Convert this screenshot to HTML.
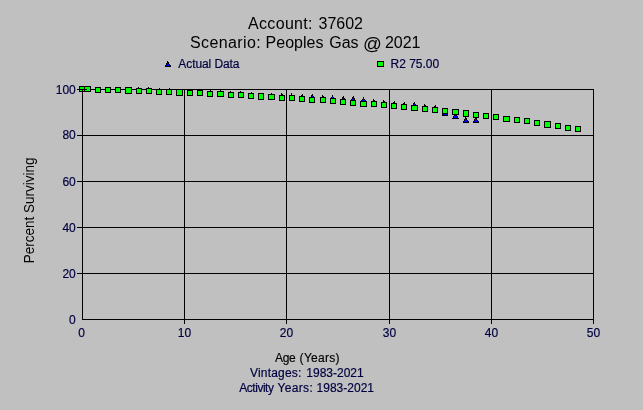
<!DOCTYPE html>
<html lang="en">
<head>
<meta charset="utf-8">
<title>Account: 37602 - Scenario: Peoples Gas @ 2021</title>
<style>
html,body{margin:0;padding:0;background:#C0C0C0;}
body{width:643px;height:410px;overflow:hidden;}
svg{display:block;}
svg text{font-family:"Liberation Sans",Arial,sans-serif;}
svg text.s{stroke:#000040;stroke-width:0.18px;}
svg text.b{stroke:#000;stroke-width:0.15px;}
</style>
</head>
<body>
<svg width="643" height="410" viewBox="0 0 643 410">
<rect x="0" y="0" width="643" height="410" fill="#C0C0C0"/>
<g shape-rendering="crispEdges">
<rect x="82" y="89" width="1" height="231" fill="#000"/>
<rect x="184" y="89" width="1" height="231" fill="#000"/>
<rect x="286" y="89" width="1" height="231" fill="#000"/>
<rect x="389" y="89" width="1" height="231" fill="#000"/>
<rect x="491" y="89" width="1" height="231" fill="#000"/>
<rect x="593" y="89" width="1" height="231" fill="#000"/>
<rect x="82" y="89" width="512" height="1" fill="#000"/>
<rect x="82" y="135" width="512" height="1" fill="#000"/>
<rect x="82" y="181" width="512" height="1" fill="#000"/>
<rect x="82" y="227" width="512" height="1" fill="#000"/>
<rect x="82" y="273" width="512" height="1" fill="#000"/>
<rect x="82" y="319" width="512" height="1" fill="#000"/>
<rect x="77" y="89" width="5" height="1" fill="#000"/>
<rect x="77" y="135" width="5" height="1" fill="#000"/>
<rect x="77" y="181" width="5" height="1" fill="#000"/>
<rect x="77" y="227" width="5" height="1" fill="#000"/>
<rect x="77" y="273" width="5" height="1" fill="#000"/>
<rect x="184" y="320" width="1" height="4" fill="#000"/>
<rect x="286" y="320" width="1" height="4" fill="#000"/>
<rect x="389" y="320" width="1" height="4" fill="#000"/>
<rect x="491" y="320" width="1" height="4" fill="#000"/>
<rect x="593" y="320" width="1" height="4" fill="#000"/>
<rect x="138" y="87" width="1" height="1" fill="#000"/><rect x="138" y="88" width="2" height="1" fill="#000"/><rect x="137" y="89" width="3" height="1" fill="#000"/><rect x="138" y="89" width="1" height="1" fill="#00f"/><rect x="137" y="90" width="4" height="1" fill="#000"/><rect x="138" y="90" width="2" height="1" fill="#00f"/><rect x="136" y="91" width="6" height="1" fill="#000"/><rect x="137" y="91" width="4" height="1" fill="#00f"/><rect x="136" y="92" width="6" height="1" fill="#000"/>
<rect x="148" y="87" width="1" height="1" fill="#000"/><rect x="148" y="88" width="2" height="1" fill="#000"/><rect x="147" y="89" width="3" height="1" fill="#000"/><rect x="148" y="89" width="1" height="1" fill="#00f"/><rect x="147" y="90" width="4" height="1" fill="#000"/><rect x="148" y="90" width="2" height="1" fill="#00f"/><rect x="146" y="91" width="6" height="1" fill="#000"/><rect x="147" y="91" width="4" height="1" fill="#00f"/><rect x="146" y="92" width="6" height="1" fill="#000"/>
<rect x="159" y="88" width="1" height="1" fill="#000"/><rect x="158" y="89" width="2" height="1" fill="#000"/><rect x="158" y="90" width="3" height="1" fill="#000"/><rect x="159" y="90" width="1" height="1" fill="#00f"/><rect x="157" y="91" width="4" height="1" fill="#000"/><rect x="158" y="91" width="2" height="1" fill="#00f"/><rect x="156" y="92" width="6" height="1" fill="#000"/><rect x="157" y="92" width="4" height="1" fill="#00f"/><rect x="156" y="93" width="6" height="1" fill="#000"/>
<rect x="169" y="88" width="1" height="1" fill="#000"/><rect x="168" y="89" width="2" height="1" fill="#000"/><rect x="168" y="90" width="3" height="1" fill="#000"/><rect x="169" y="90" width="1" height="1" fill="#00f"/><rect x="167" y="91" width="4" height="1" fill="#000"/><rect x="168" y="91" width="2" height="1" fill="#00f"/><rect x="166" y="92" width="6" height="1" fill="#000"/><rect x="167" y="92" width="4" height="1" fill="#00f"/><rect x="166" y="93" width="6" height="1" fill="#000"/>
<rect x="210" y="90" width="1" height="1" fill="#000"/><rect x="209" y="91" width="2" height="1" fill="#000"/><rect x="209" y="92" width="3" height="1" fill="#000"/><rect x="210" y="92" width="1" height="1" fill="#00f"/><rect x="208" y="93" width="4" height="1" fill="#000"/><rect x="209" y="93" width="2" height="1" fill="#00f"/><rect x="207" y="94" width="6" height="1" fill="#000"/><rect x="208" y="94" width="4" height="1" fill="#00f"/><rect x="207" y="95" width="6" height="1" fill="#000"/>
<rect x="220" y="90" width="1" height="1" fill="#000"/><rect x="220" y="91" width="1" height="1" fill="#000"/><rect x="219" y="92" width="3" height="1" fill="#000"/><rect x="220" y="92" width="1" height="1" fill="#00f"/><rect x="218" y="93" width="5" height="1" fill="#000"/><rect x="219" y="93" width="3" height="1" fill="#00f"/><rect x="218" y="94" width="5" height="1" fill="#000"/><rect x="219" y="94" width="3" height="1" fill="#00f"/><rect x="217" y="95" width="7" height="1" fill="#000"/>
<rect x="230" y="91" width="1" height="1" fill="#000"/><rect x="230" y="92" width="2" height="1" fill="#000"/><rect x="229" y="93" width="3" height="1" fill="#000"/><rect x="230" y="93" width="1" height="1" fill="#00f"/><rect x="229" y="94" width="4" height="1" fill="#000"/><rect x="230" y="94" width="2" height="1" fill="#00f"/><rect x="228" y="95" width="6" height="1" fill="#000"/><rect x="229" y="95" width="4" height="1" fill="#00f"/><rect x="228" y="96" width="6" height="1" fill="#000"/>
<rect x="240" y="91" width="1" height="1" fill="#000"/><rect x="240" y="92" width="2" height="1" fill="#000"/><rect x="239" y="93" width="3" height="1" fill="#000"/><rect x="240" y="93" width="1" height="1" fill="#00f"/><rect x="239" y="94" width="4" height="1" fill="#000"/><rect x="240" y="94" width="2" height="1" fill="#00f"/><rect x="238" y="95" width="6" height="1" fill="#000"/><rect x="239" y="95" width="4" height="1" fill="#00f"/><rect x="238" y="96" width="6" height="1" fill="#000"/>
<rect x="251" y="92" width="1" height="1" fill="#000"/><rect x="250" y="93" width="2" height="1" fill="#000"/><rect x="250" y="94" width="3" height="1" fill="#000"/><rect x="251" y="94" width="1" height="1" fill="#00f"/><rect x="249" y="95" width="4" height="1" fill="#000"/><rect x="250" y="95" width="2" height="1" fill="#00f"/><rect x="248" y="96" width="6" height="1" fill="#000"/><rect x="249" y="96" width="4" height="1" fill="#00f"/><rect x="248" y="97" width="6" height="1" fill="#000"/>
<rect x="271" y="93" width="1" height="1" fill="#000"/><rect x="271" y="94" width="1" height="1" fill="#000"/><rect x="270" y="95" width="3" height="1" fill="#000"/><rect x="271" y="95" width="1" height="1" fill="#00f"/><rect x="269" y="96" width="5" height="1" fill="#000"/><rect x="270" y="96" width="3" height="1" fill="#00f"/><rect x="269" y="97" width="5" height="1" fill="#000"/><rect x="270" y="97" width="3" height="1" fill="#00f"/><rect x="268" y="98" width="7" height="1" fill="#000"/>
<rect x="281" y="93" width="1" height="1" fill="#000"/><rect x="281" y="94" width="2" height="1" fill="#000"/><rect x="280" y="95" width="3" height="1" fill="#000"/><rect x="281" y="95" width="1" height="1" fill="#00f"/><rect x="280" y="96" width="4" height="1" fill="#000"/><rect x="281" y="96" width="2" height="1" fill="#00f"/><rect x="279" y="97" width="6" height="1" fill="#000"/><rect x="280" y="97" width="4" height="1" fill="#00f"/><rect x="279" y="98" width="6" height="1" fill="#000"/>
<rect x="291" y="93" width="1" height="1" fill="#000"/><rect x="291" y="94" width="1" height="1" fill="#000"/><rect x="290" y="95" width="3" height="1" fill="#000"/><rect x="291" y="95" width="1" height="1" fill="#00f"/><rect x="290" y="96" width="4" height="1" fill="#000"/><rect x="291" y="96" width="2" height="1" fill="#00f"/><rect x="289" y="97" width="6" height="1" fill="#000"/><rect x="290" y="97" width="4" height="1" fill="#00f"/><rect x="289" y="98" width="6" height="1" fill="#000"/>
<rect x="302" y="94" width="1" height="1" fill="#000"/><rect x="301" y="95" width="2" height="1" fill="#000"/><rect x="301" y="96" width="3" height="1" fill="#000"/><rect x="302" y="96" width="1" height="1" fill="#00f"/><rect x="300" y="97" width="4" height="1" fill="#000"/><rect x="301" y="97" width="2" height="1" fill="#00f"/><rect x="299" y="98" width="6" height="1" fill="#000"/><rect x="300" y="98" width="4" height="1" fill="#00f"/><rect x="299" y="99" width="6" height="1" fill="#000"/>
<rect x="312" y="94" width="1" height="1" fill="#000"/><rect x="311" y="95" width="2" height="1" fill="#000"/><rect x="311" y="96" width="3" height="1" fill="#000"/><rect x="312" y="96" width="1" height="1" fill="#00f"/><rect x="310" y="97" width="4" height="1" fill="#000"/><rect x="311" y="97" width="2" height="1" fill="#00f"/><rect x="309" y="98" width="6" height="1" fill="#000"/><rect x="310" y="98" width="4" height="1" fill="#00f"/><rect x="309" y="99" width="6" height="1" fill="#000"/>
<rect x="322" y="95" width="1" height="1" fill="#000"/><rect x="322" y="96" width="2" height="1" fill="#000"/><rect x="321" y="97" width="3" height="1" fill="#000"/><rect x="322" y="97" width="1" height="1" fill="#00f"/><rect x="321" y="98" width="4" height="1" fill="#000"/><rect x="322" y="98" width="2" height="1" fill="#00f"/><rect x="320" y="99" width="6" height="1" fill="#000"/><rect x="321" y="99" width="4" height="1" fill="#00f"/><rect x="320" y="100" width="6" height="1" fill="#000"/>
<rect x="332" y="95" width="1" height="1" fill="#000"/><rect x="332" y="96" width="1" height="1" fill="#000"/><rect x="331" y="97" width="3" height="1" fill="#000"/><rect x="332" y="97" width="1" height="1" fill="#00f"/><rect x="331" y="98" width="4" height="1" fill="#000"/><rect x="332" y="98" width="2" height="1" fill="#00f"/><rect x="330" y="99" width="6" height="1" fill="#000"/><rect x="331" y="99" width="4" height="1" fill="#00f"/><rect x="330" y="100" width="6" height="1" fill="#000"/>
<rect x="343" y="96" width="1" height="1" fill="#000"/><rect x="342" y="97" width="2" height="1" fill="#000"/><rect x="342" y="98" width="3" height="1" fill="#000"/><rect x="343" y="98" width="1" height="1" fill="#00f"/><rect x="341" y="99" width="4" height="1" fill="#000"/><rect x="342" y="99" width="2" height="1" fill="#00f"/><rect x="340" y="100" width="6" height="1" fill="#000"/><rect x="341" y="100" width="4" height="1" fill="#00f"/><rect x="340" y="101" width="6" height="1" fill="#000"/>
<rect x="353" y="96" width="1" height="1" fill="#000"/><rect x="352" y="97" width="2" height="1" fill="#000"/><rect x="352" y="98" width="3" height="1" fill="#000"/><rect x="353" y="98" width="1" height="1" fill="#00f"/><rect x="351" y="99" width="4" height="1" fill="#000"/><rect x="352" y="99" width="2" height="1" fill="#00f"/><rect x="350" y="100" width="6" height="1" fill="#000"/><rect x="351" y="100" width="4" height="1" fill="#00f"/><rect x="350" y="101" width="6" height="1" fill="#000"/>
<rect x="363" y="97" width="1" height="1" fill="#000"/><rect x="363" y="98" width="1" height="1" fill="#00f"/><rect x="362" y="99" width="3" height="1" fill="#000"/><rect x="363" y="99" width="1" height="1" fill="#00f"/><rect x="361" y="100" width="5" height="1" fill="#000"/><rect x="362" y="100" width="3" height="1" fill="#00f"/><rect x="361" y="101" width="5" height="1" fill="#000"/><rect x="362" y="101" width="3" height="1" fill="#00f"/><rect x="360" y="102" width="7" height="1" fill="#000"/>
<rect x="373" y="99" width="1" height="1" fill="#000"/><rect x="373" y="100" width="2" height="1" fill="#000"/><rect x="372" y="101" width="3" height="1" fill="#000"/><rect x="373" y="101" width="1" height="1" fill="#00f"/><rect x="372" y="102" width="4" height="1" fill="#000"/><rect x="373" y="102" width="2" height="1" fill="#00f"/><rect x="371" y="103" width="6" height="1" fill="#000"/><rect x="372" y="103" width="4" height="1" fill="#00f"/><rect x="371" y="104" width="6" height="1" fill="#000"/>
<rect x="383" y="100" width="1" height="1" fill="#000"/><rect x="383" y="101" width="2" height="1" fill="#000"/><rect x="382" y="102" width="3" height="1" fill="#000"/><rect x="383" y="102" width="1" height="1" fill="#00f"/><rect x="382" y="103" width="4" height="1" fill="#000"/><rect x="383" y="103" width="2" height="1" fill="#00f"/><rect x="381" y="104" width="6" height="1" fill="#000"/><rect x="382" y="104" width="4" height="1" fill="#00f"/><rect x="381" y="105" width="6" height="1" fill="#000"/>
<rect x="394" y="101" width="1" height="1" fill="#000"/><rect x="393" y="102" width="2" height="1" fill="#000"/><rect x="393" y="103" width="3" height="1" fill="#000"/><rect x="394" y="103" width="1" height="1" fill="#00f"/><rect x="392" y="104" width="4" height="1" fill="#000"/><rect x="393" y="104" width="2" height="1" fill="#00f"/><rect x="391" y="105" width="6" height="1" fill="#000"/><rect x="392" y="105" width="4" height="1" fill="#00f"/><rect x="391" y="106" width="6" height="1" fill="#000"/>
<rect x="404" y="102" width="1" height="1" fill="#000"/><rect x="403" y="103" width="2" height="1" fill="#000"/><rect x="403" y="104" width="3" height="1" fill="#000"/><rect x="404" y="104" width="1" height="1" fill="#00f"/><rect x="402" y="105" width="4" height="1" fill="#000"/><rect x="403" y="105" width="2" height="1" fill="#00f"/><rect x="401" y="106" width="6" height="1" fill="#000"/><rect x="402" y="106" width="4" height="1" fill="#00f"/><rect x="401" y="107" width="6" height="1" fill="#000"/>
<rect x="414" y="102" width="1" height="1" fill="#000"/><rect x="413" y="103" width="2" height="1" fill="#000"/><rect x="413" y="104" width="3" height="1" fill="#000"/><rect x="414" y="104" width="1" height="1" fill="#00f"/><rect x="412" y="105" width="5" height="1" fill="#000"/><rect x="413" y="105" width="3" height="1" fill="#00f"/><rect x="412" y="106" width="5" height="1" fill="#000"/><rect x="413" y="106" width="3" height="1" fill="#00f"/><rect x="411" y="107" width="7" height="1" fill="#000"/>
<rect x="424" y="104" width="1" height="1" fill="#000"/><rect x="424" y="105" width="2" height="1" fill="#000"/><rect x="423" y="106" width="3" height="1" fill="#000"/><rect x="424" y="106" width="1" height="1" fill="#00f"/><rect x="423" y="107" width="4" height="1" fill="#000"/><rect x="424" y="107" width="2" height="1" fill="#00f"/><rect x="422" y="108" width="6" height="1" fill="#000"/><rect x="423" y="108" width="4" height="1" fill="#00f"/><rect x="422" y="109" width="6" height="1" fill="#000"/>
<rect x="435" y="105" width="1" height="1" fill="#000"/><rect x="434" y="106" width="2" height="1" fill="#000"/><rect x="434" y="107" width="3" height="1" fill="#000"/><rect x="435" y="107" width="1" height="1" fill="#00f"/><rect x="433" y="108" width="4" height="1" fill="#000"/><rect x="434" y="108" width="2" height="1" fill="#00f"/><rect x="432" y="109" width="6" height="1" fill="#000"/><rect x="433" y="109" width="4" height="1" fill="#00f"/><rect x="432" y="110" width="6" height="1" fill="#000"/>
<rect x="445" y="110" width="1" height="1" fill="#000"/><rect x="444" y="111" width="2" height="1" fill="#000"/><rect x="444" y="112" width="3" height="1" fill="#000"/><rect x="445" y="112" width="1" height="1" fill="#00f"/><rect x="443" y="113" width="4" height="1" fill="#000"/><rect x="444" y="113" width="2" height="1" fill="#00f"/><rect x="442" y="114" width="6" height="1" fill="#000"/><rect x="444" y="114" width="3" height="1" fill="#00f"/><rect x="442" y="115" width="6" height="1" fill="#000"/>
<rect x="455" y="113" width="1" height="1" fill="#000"/><rect x="455" y="114" width="1" height="1" fill="#000"/><rect x="454" y="115" width="3" height="1" fill="#000"/><rect x="455" y="115" width="1" height="1" fill="#00f"/><rect x="453" y="116" width="5" height="1" fill="#000"/><rect x="454" y="116" width="3" height="1" fill="#00f"/><rect x="453" y="117" width="5" height="1" fill="#000"/><rect x="454" y="117" width="3" height="1" fill="#00f"/><rect x="452" y="118" width="7" height="1" fill="#000"/>
<rect x="465" y="117" width="1" height="1" fill="#000"/><rect x="465" y="118" width="2" height="1" fill="#000"/><rect x="464" y="119" width="3" height="1" fill="#000"/><rect x="465" y="119" width="1" height="1" fill="#00f"/><rect x="464" y="120" width="4" height="1" fill="#000"/><rect x="465" y="120" width="2" height="1" fill="#00f"/><rect x="463" y="121" width="6" height="1" fill="#000"/><rect x="464" y="121" width="4" height="1" fill="#00f"/><rect x="463" y="122" width="6" height="1" fill="#000"/>
<rect x="475" y="117" width="1" height="1" fill="#000"/><rect x="475" y="118" width="2" height="1" fill="#000"/><rect x="474" y="119" width="3" height="1" fill="#000"/><rect x="475" y="119" width="1" height="1" fill="#00f"/><rect x="474" y="120" width="4" height="1" fill="#000"/><rect x="475" y="120" width="2" height="1" fill="#00f"/><rect x="473" y="121" width="6" height="1" fill="#000"/><rect x="474" y="121" width="4" height="1" fill="#00f"/><rect x="473" y="122" width="6" height="1" fill="#000"/>
<rect x="79" y="86" width="6" height="6" fill="#000"/><rect x="80" y="87" width="4" height="4" fill="#0f0"/>
<rect x="84" y="86" width="7" height="6" fill="#000"/><rect x="85" y="87" width="5" height="4" fill="#0f0"/>
<rect x="95" y="87" width="6" height="6" fill="#000"/><rect x="96" y="88" width="4" height="4" fill="#0f0"/>
<rect x="105" y="87" width="6" height="6" fill="#000"/><rect x="106" y="88" width="4" height="4" fill="#0f0"/>
<rect x="115" y="87" width="6" height="6" fill="#000"/><rect x="116" y="88" width="4" height="4" fill="#0f0"/>
<rect x="125" y="87" width="7" height="7" fill="#000"/><rect x="126" y="88" width="5" height="5" fill="#0f0"/>
<rect x="136" y="88" width="6" height="6" fill="#000"/><rect x="137" y="89" width="4" height="4" fill="#0f0"/>
<rect x="146" y="88" width="6" height="6" fill="#000"/><rect x="147" y="89" width="4" height="4" fill="#0f0"/>
<rect x="156" y="89" width="6" height="6" fill="#000"/><rect x="157" y="90" width="4" height="4" fill="#0f0"/>
<rect x="166" y="89" width="6" height="6" fill="#000"/><rect x="167" y="90" width="4" height="4" fill="#0f0"/>
<rect x="176" y="89" width="7" height="7" fill="#000"/><rect x="177" y="90" width="5" height="5" fill="#0f0"/>
<rect x="187" y="90" width="6" height="6" fill="#000"/><rect x="188" y="91" width="4" height="4" fill="#0f0"/>
<rect x="197" y="90" width="6" height="6" fill="#000"/><rect x="198" y="91" width="4" height="4" fill="#0f0"/>
<rect x="207" y="91" width="6" height="6" fill="#000"/><rect x="208" y="92" width="4" height="4" fill="#0f0"/>
<rect x="217" y="91" width="7" height="6" fill="#000"/><rect x="218" y="92" width="5" height="4" fill="#0f0"/>
<rect x="228" y="92" width="6" height="6" fill="#000"/><rect x="229" y="93" width="4" height="4" fill="#0f0"/>
<rect x="238" y="92" width="6" height="6" fill="#000"/><rect x="239" y="93" width="4" height="4" fill="#0f0"/>
<rect x="248" y="93" width="6" height="6" fill="#000"/><rect x="249" y="94" width="4" height="4" fill="#0f0"/>
<rect x="258" y="93" width="6" height="7" fill="#000"/><rect x="259" y="94" width="4" height="5" fill="#0f0"/>
<rect x="268" y="94" width="7" height="6" fill="#000"/><rect x="269" y="95" width="5" height="4" fill="#0f0"/>
<rect x="279" y="95" width="6" height="6" fill="#000"/><rect x="280" y="96" width="4" height="4" fill="#0f0"/>
<rect x="289" y="95" width="6" height="6" fill="#000"/><rect x="290" y="96" width="4" height="4" fill="#0f0"/>
<rect x="299" y="96" width="6" height="6" fill="#000"/><rect x="300" y="97" width="4" height="4" fill="#0f0"/>
<rect x="309" y="97" width="6" height="6" fill="#000"/><rect x="310" y="98" width="4" height="4" fill="#0f0"/>
<rect x="320" y="97" width="6" height="6" fill="#000"/><rect x="321" y="98" width="4" height="4" fill="#0f0"/>
<rect x="330" y="98" width="6" height="6" fill="#000"/><rect x="331" y="99" width="4" height="4" fill="#0f0"/>
<rect x="340" y="99" width="6" height="6" fill="#000"/><rect x="341" y="100" width="4" height="4" fill="#0f0"/>
<rect x="350" y="100" width="6" height="6" fill="#000"/><rect x="351" y="101" width="4" height="4" fill="#0f0"/>
<rect x="360" y="101" width="7" height="6" fill="#000"/><rect x="361" y="102" width="5" height="4" fill="#0f0"/>
<rect x="371" y="101" width="6" height="6" fill="#000"/><rect x="372" y="102" width="4" height="4" fill="#0f0"/>
<rect x="381" y="102" width="6" height="6" fill="#000"/><rect x="382" y="103" width="4" height="4" fill="#0f0"/>
<rect x="391" y="103" width="6" height="6" fill="#000"/><rect x="392" y="104" width="4" height="4" fill="#0f0"/>
<rect x="401" y="104" width="6" height="6" fill="#000"/><rect x="402" y="105" width="4" height="4" fill="#0f0"/>
<rect x="411" y="105" width="7" height="6" fill="#000"/><rect x="412" y="106" width="5" height="4" fill="#0f0"/>
<rect x="422" y="106" width="6" height="6" fill="#000"/><rect x="423" y="107" width="4" height="4" fill="#0f0"/>
<rect x="432" y="107" width="6" height="6" fill="#000"/><rect x="433" y="108" width="4" height="4" fill="#0f0"/>
<rect x="442" y="108" width="6" height="6" fill="#000"/><rect x="443" y="109" width="4" height="4" fill="#0f0"/>
<rect x="452" y="109" width="7" height="6" fill="#000"/><rect x="453" y="110" width="5" height="4" fill="#0f0"/>
<rect x="463" y="110" width="6" height="7" fill="#000"/><rect x="464" y="111" width="4" height="5" fill="#0f0"/>
<rect x="473" y="112" width="6" height="6" fill="#000"/><rect x="474" y="113" width="4" height="4" fill="#0f0"/>
<rect x="483" y="113" width="6" height="6" fill="#000"/><rect x="484" y="114" width="4" height="4" fill="#0f0"/>
<rect x="493" y="114" width="6" height="6" fill="#000"/><rect x="494" y="115" width="4" height="4" fill="#0f0"/>
<rect x="503" y="116" width="7" height="6" fill="#000"/><rect x="504" y="117" width="5" height="4" fill="#0f0"/>
<rect x="514" y="117" width="6" height="6" fill="#000"/><rect x="515" y="118" width="4" height="4" fill="#0f0"/>
<rect x="524" y="118" width="6" height="6" fill="#000"/><rect x="525" y="119" width="4" height="4" fill="#0f0"/>
<rect x="534" y="120" width="6" height="6" fill="#000"/><rect x="535" y="121" width="4" height="4" fill="#0f0"/>
<rect x="544" y="121" width="7" height="7" fill="#000"/><rect x="545" y="122" width="5" height="5" fill="#0f0"/>
<rect x="555" y="123" width="6" height="6" fill="#000"/><rect x="556" y="124" width="4" height="4" fill="#0f0"/>
<rect x="565" y="125" width="6" height="6" fill="#000"/><rect x="566" y="126" width="4" height="4" fill="#0f0"/>
<rect x="575" y="126" width="6" height="6" fill="#000"/><rect x="576" y="127" width="4" height="4" fill="#0f0"/>
<rect x="77" y="89" width="10" height="1" fill="#000"/><rect x="82" y="89" width="1" height="3" fill="#000"/>
<rect x="167" y="61" width="1" height="1" fill="#000"/><rect x="167" y="62" width="2" height="1" fill="#000"/><rect x="166" y="63" width="3" height="1" fill="#000"/><rect x="167" y="63" width="1" height="1" fill="#00f"/><rect x="166" y="64" width="4" height="1" fill="#000"/><rect x="167" y="64" width="2" height="1" fill="#00f"/><rect x="165" y="65" width="6" height="1" fill="#000"/><rect x="166" y="65" width="3" height="1" fill="#00f"/><rect x="165" y="66" width="6" height="1" fill="#000"/>
<rect x="377" y="61" width="7" height="6" fill="#000"/><rect x="378" y="62" width="5" height="4" fill="#0f0"/>
</g>
<g>
<text class="t" y="29" font-size="16" fill="#000"><tspan x="248.1" textLength="64.4" lengthAdjust="spacing">Account:</tspan> <tspan x="318.5">37602</tspan></text>
<text class="t" y="48" font-size="16" fill="#000"><tspan x="190.0" textLength="70.8" lengthAdjust="spacing">Scenario:</tspan> <tspan x="265.6">Peoples</tspan> <tspan x="329.2">Gas</tspan> <tspan x="362.9" font-size="18.5" dy="1.9">@</tspan> <tspan x="384.9" dy="-1.9">2021</tspan></text>
<text class="s" x="178.3" y="67.5" font-size="12" text-anchor="start" fill="#000040" textLength="61.2" lengthAdjust="spacing">Actual Data</text>
<text class="s" x="390.5" y="67.5" font-size="12" text-anchor="start" fill="#000040">R2 75.00</text>
<text class="s" x="75.8" y="94.3" font-size="12" text-anchor="end" fill="#000040">100</text>
<text class="s" x="75.8" y="139.3" font-size="12" text-anchor="end" fill="#000040">80</text>
<text class="s" x="75.8" y="186.3" font-size="12" text-anchor="end" fill="#000040">60</text>
<text class="s" x="75.8" y="232.3" font-size="12" text-anchor="end" fill="#000040">40</text>
<text class="s" x="75.8" y="278.3" font-size="12" text-anchor="end" fill="#000040">20</text>
<text class="s" x="75.8" y="324.3" font-size="12" text-anchor="end" fill="#000040">0</text>
<text class="s" x="81.5" y="336.5" font-size="12" text-anchor="middle" fill="#000040">0</text>
<text class="s" x="184.5" y="336.5" font-size="12" text-anchor="middle" fill="#000040">10</text>
<text class="s" x="286.5" y="336.5" font-size="12" text-anchor="middle" fill="#000040">20</text>
<text class="s" x="389.5" y="336.5" font-size="12" text-anchor="middle" fill="#000040">30</text>
<text class="s" x="491.5" y="336.5" font-size="12" text-anchor="middle" fill="#000040">40</text>
<text class="s" x="593.5" y="336.5" font-size="12" text-anchor="middle" fill="#000040">50</text>
<text class="b" y="362" font-size="12" fill="#000"><tspan x="275.1" textLength="20.5" lengthAdjust="spacing">Age</tspan> <tspan x="299.6" textLength="40.0" lengthAdjust="spacing">(Years)</tspan></text>
<text class="s" y="377" font-size="12" fill="#000040"><tspan x="250.0" textLength="51.4" lengthAdjust="spacing">Vintages:</tspan> <tspan x="306.3">1983-2021</tspan></text>
<text class="s" y="392" font-size="12" fill="#000040"><tspan x="239.2" textLength="34.8" lengthAdjust="spacing">Activity</tspan> <tspan x="277.4" textLength="35.4" lengthAdjust="spacing">Years:</tspan> <tspan x="316.6">1983-2021</tspan></text>
<text class="t" transform="translate(34.2,210.4) rotate(-90) scale(1,1.09)" font-size="13.5" text-anchor="middle" fill="#000">Percent Surviving</text>
</g>
</svg>
</body>
</html>
